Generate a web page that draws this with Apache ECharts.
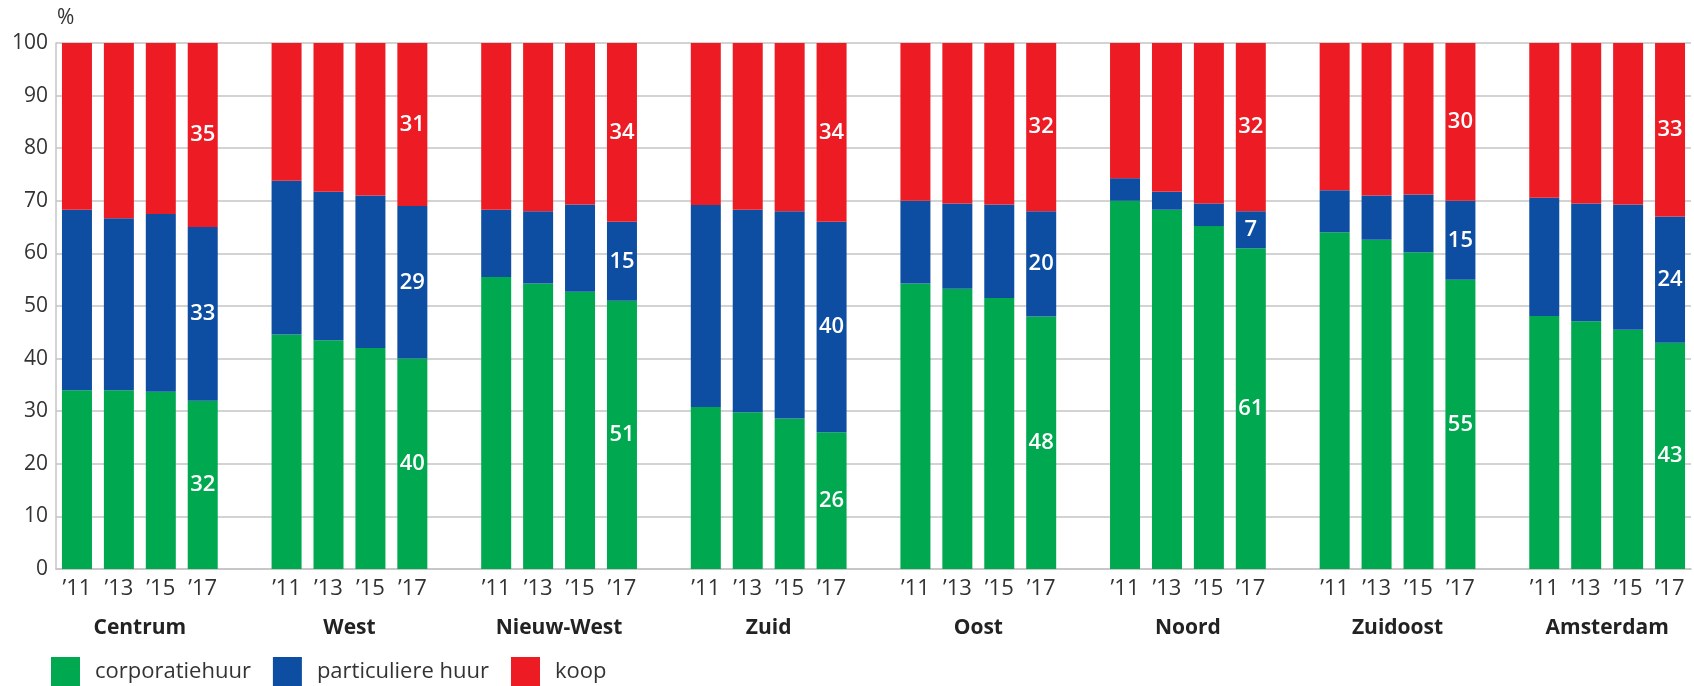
<!DOCTYPE html>
<html>
<head>
<meta charset="utf-8">
<script src="https://cdn.jsdelivr.net/npm/echarts@6.0.0/dist/echarts.min.js"></script>
<style>
html,body{margin:0;padding:0;background:#fff;}
#chart{width:1694px;height:686px;}
</style>
</head>
<body>
<div id="chart"></div>
<script>
const districts = ['Centrum','West','Nieuw-West','Zuid','Oost','Noord','Zuidoost','Amsterdam'];
const years = ['\u201911','\u201913','\u201915','\u201917'];
const seriesNames = ['corporatiehuur','particuliere huur','koop'];
const colors = ['#00a94f','#0d4ea2','#ed1c24'];
// values per district, in order '11 '13 '15 '17
const corporatiehuur = [
  34.0, 34.0, 33.7, 32,
  44.6, 43.5, 42.0, 40,
  55.5, 54.3, 52.7, 51,
  30.8, 29.8, 28.6, 26,
  54.3, 53.3, 51.5, 48,
  70.0, 68.3, 65.2, 61,
  64.0, 62.6, 60.2, 55,
  48.1, 47.1, 45.5, 43
];
const particuliereHuur = [
  34.3, 32.7, 33.8, 33,
  29.2, 28.2, 29.0, 29,
  12.8, 13.7, 16.6, 15,
  38.4, 38.5, 39.4, 40,
  15.7, 16.2, 17.8, 20,
  4.3, 3.4, 4.3, 7,
  8.0, 8.4, 11.0, 15,
  22.5, 22.4, 23.8, 24
];
const koop = [
  31.7, 33.3, 32.5, 35,
  26.2, 28.3, 29.0, 31,
  31.7, 32.0, 30.7, 34,
  30.8, 31.7, 32.0, 34,
  30.0, 30.5, 30.7, 32,
  25.7, 28.3, 30.5, 32,
  28.0, 29.0, 28.8, 30,
  29.4, 30.5, 30.7, 33
];

// build slot categories: 4 years per district, one empty slot between districts
const cats = [];
const slotIdx = [];
districts.forEach((d, g) => {
  years.forEach((y) => { slotIdx.push(cats.length); cats.push(d + '|' + y); });
  if (g < districts.length - 1) cats.push('gap' + g);
});
function slotData(arr) {
  const out = cats.map(() => null);
  arr.forEach((v, i) => { out[slotIdx[i]] = v; });
  return out;
}
// group-name axis: half-slot positions, boundaryGap false
const nameCats = [];
for (let i = 0; i <= cats.length * 2; i++) nameCats.push('');
districts.forEach((d, g) => { nameCats[10 * g + 4] = d; });

const FONT = '"Open Sans", Lato, sans-serif';
const slotW = 42.12;
const chart = echarts.init(document.getElementById('chart'), null, {renderer: 'canvas'});
const dataArrs = [corporatiehuur, particuliereHuur, koop];
chart.setOption({
  animation: false,
  backgroundColor: '#fff',
  textStyle: {fontFamily: FONT},
  grid: {left: 56, top: 43, height: 526, width: slotW * cats.length},
  legend: {
    left: 51, top: 657,
    padding: 0,
    itemWidth: 29, itemHeight: 30, itemGap: 22,
    icon: 'rect',
    data: seriesNames,
    textStyle: {fontFamily: FONT, fontSize: 22, color: '#333', padding: [0, 0, 0, 10]}
  },
  xAxis: [{
    type: 'category',
    data: cats,
    axisLine: {show: true, lineStyle: {color: '#c4c4c4', width: 1.5}},
    axisTick: {show: false},
    axisLabel: {
      interval: 0, margin: 9, fontSize: 22, color: '#333', fontFamily: FONT,
      formatter: v => v.indexOf('|') >= 0 ? v.split('|')[1] : ''
    }
  }, {
    type: 'category',
    position: 'bottom',
    offset: 40,
    boundaryGap: false,
    data: nameCats,
    axisLine: {show: false},
    axisTick: {show: false},
    splitLine: {show: false},
    axisLabel: {interval: 0, margin: 9, fontSize: 21, fontWeight: 'bold', color: '#222', fontFamily: FONT}
  }],
  yAxis: {
    type: 'value',
    min: 0, max: 100, interval: 10,
    name: '%',
    nameLocation: 'end',
    nameGap: 14,
    nameTextStyle: {fontSize: 21, color: '#333', align: 'left', padding: [0, 0, 0, 1], fontFamily: FONT},
    axisLine: {show: true, lineStyle: {color: '#c4c4c4', width: 1.5}},
    axisTick: {show: false},
    splitLine: {show: true, lineStyle: {color: '#c4c4c4', width: 1.5}},
    axisLabel: {fontSize: 21, color: '#333', margin: 8, fontFamily: FONT}
  },
  series: seriesNames.map((n, i) => ({
    name: n,
    type: 'bar',
    stack: 'total',
    barWidth: 30,
    itemStyle: {color: colors[i]},
    label: {
      show: true,
      position: 'inside',
      color: '#fff',
      fontSize: 22,
      fontWeight: 600,
      fontFamily: FONT,
      formatter: p => (p.name.endsWith('\u201917') && p.value != null) ? String(Math.round(p.value)) : ''
    },
    data: slotData(dataArrs[i])
  }))
});
</script>
</body>
</html>
